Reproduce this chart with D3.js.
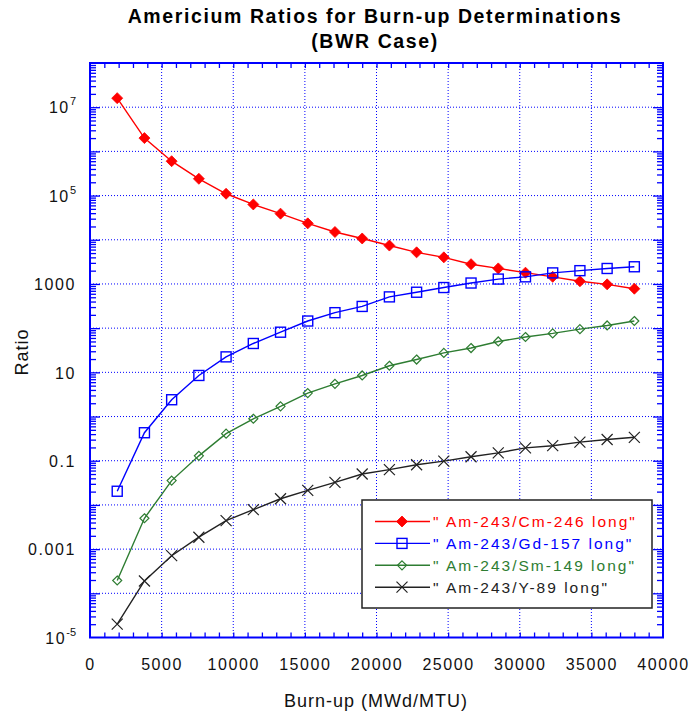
<!DOCTYPE html>
<html>
<head>
<meta charset="utf-8">
<script src="https://cdn.jsdelivr.net/npm/d3@7"></script>
<style>
  body { margin: 0; background: #fff; }
  text { font-family: "Liberation Sans", Arial, sans-serif; }
</style>
</head>
<body>
<svg id="chart" width="691" height="719"></svg>
<script>
// Burn-up steps (MWd/MTU)
const burnup = [1900, 3800, 5700, 7600, 9500, 11400, 13300, 15200, 17100, 19000,
                20900, 22800, 24700, 26600, 28500, 30400, 32300, 34200, 36100, 38000];

// Isotope ratios
const amCm246 = [1.6e7, 2.0e6, 6.0e5, 2.4e5, 1.1e5, 6.3e4, 3.9e4, 2.35e4, 1.5e4, 1.07e4,
                 7.4e3, 5.2e3, 4.0e3, 2.8e3, 2.25e3, 1.8e3, 1.45e3, 1.15e3, 980, 780];
const amGd157 = [0.0204, 0.43, 2.4, 8.5, 22.4, 45, 81, 145, 224, 310,
                 510, 650, 830, 1050, 1290, 1450, 1780, 2000, 2240, 2450];
const amSm149 = [1.95e-4, 5.0e-3, 0.0355, 0.129, 0.41, 0.89, 1.7, 3.4, 5.5, 8.5,
                 14.1, 19.5, 27.5, 35.5, 50, 63, 76, 95, 115, 145];
const amY89   = [2.0e-5, 1.9e-4, 7.1e-4, 1.86e-3, 4.4e-3, 7.8e-3, 0.0138, 0.0214, 0.0324, 0.05,
                 0.063, 0.081, 0.098, 0.123, 0.151, 0.195, 0.219, 0.263, 0.302, 0.339];

const seriesNames = ['" Am-243/Cm-246 long"', '" Am-243/Gd-157 long"',
                     '" Am-243/Sm-149 long"', '" Am-243/Y-89 long"'];

// Axis labelling
const xTickValues = [0, 5000, 10000, 15000, 20000, 25000, 30000, 35000, 40000];
const yLabelValues = [1e7, 1e5, 1000, 10, 0.1, 0.001, 1e-5];
const yLabelBase = ["10", "10", "1000", "10", "0.1", "0.001", "10"];
const yLabelExp  = ["7", "5", "", "", "", "", "-5"];

const series = [
  { name: seriesNames[0], values: amCm246, color: "#ff0000", marker: "diamondFilled" },
  { name: seriesNames[1], values: amGd157, color: "#0000ff", marker: "square" },
  { name: seriesNames[2], values: amSm149, color: "#2e7d32", marker: "diamondOpen" },
  { name: seriesNames[3], values: amY89,   color: "#222222", marker: "cross" }
];

const svg = d3.select("#chart");
const L = 90, R = 663, T = 63, B = 637.5;
const blue = "#0000ff";

const x = d3.scaleLinear().domain([0, 40000]).range([L, R]);
const y = d3.scaleLog().domain([1e-5, 1e8]).range([B, T]);

// dotted grid
const grid = svg.append("g").attr("stroke", blue).attr("stroke-width", 1)
  .attr("stroke-dasharray", "1,2");
d3.range(5000, 40000, 5000).forEach(v => {
  grid.append("line").attr("x1", x(v)).attr("x2", x(v)).attr("y1", T).attr("y2", B);
});
d3.range(-4, 8).forEach(e => {
  const yy = y(Math.pow(10, e));
  grid.append("line").attr("x1", L).attr("x2", R).attr("y1", yy).attr("y2", yy);
});

// inward tick marks on all four sides
function styleAxis(g) {
  g.select(".domain").remove();
  g.selectAll(".tick line").attr("stroke", blue).attr("stroke-width", 1.3);
  g.selectAll(".tick text").remove();
}
const xMinor = d3.range(1000, 40000, 1000);
svg.append("g").attr("transform", `translate(0,${B})`)
  .call(d3.axisBottom(x).tickValues(xMinor).tickSize(-5)).call(styleAxis);
svg.append("g").attr("transform", `translate(0,${T})`)
  .call(d3.axisTop(x).tickValues(xMinor).tickSize(-5)).call(styleAxis);

const yMinor = [];
const yMajor = [];
for (let e = -5; e < 8; e++) {
  if (e > -5) yMajor.push(Math.pow(10, e));
  for (let k = 2; k <= 9; k++) yMinor.push(k * Math.pow(10, e));
}
svg.append("g").attr("transform", `translate(${L},0)`)
  .call(d3.axisLeft(y).tickValues(yMinor).tickSize(-6)).call(styleAxis);
svg.append("g").attr("transform", `translate(${L},0)`)
  .call(d3.axisLeft(y).tickValues(yMajor).tickSize(-10)).call(styleAxis);
svg.append("g").attr("transform", `translate(${R},0)`)
  .call(d3.axisRight(y).tickValues(yMinor).tickSize(-6)).call(styleAxis);
svg.append("g").attr("transform", `translate(${R},0)`)
  .call(d3.axisRight(y).tickValues(yMajor).tickSize(-10)).call(styleAxis);

// frame
svg.append("rect").attr("x", L).attr("y", T).attr("width", R - L).attr("height", B - T)
  .attr("fill", "none").attr("stroke", blue).attr("stroke-width", 2);

// x tick labels
const xLab = svg.append("g").attr("transform", `translate(0,${B})`)
  .call(d3.axisBottom(x).tickValues(xTickValues).tickSize(0).tickPadding(21)
    .tickFormat(d3.format("d")));
xLab.select(".domain").remove();
xLab.selectAll(".tick text").attr("font-size", 16).attr("fill", "#111")
  .attr("font-family", '"Liberation Sans", Arial, sans-serif')
  .attr("letter-spacing", "1.6px");

// y tick labels with exponents
const yLab = svg.append("g").attr("transform", `translate(${L},0)`)
  .call(d3.axisLeft(y).tickValues(yLabelValues).tickSize(0).tickPadding(14)
    .tickFormat(() => ""));
yLab.select(".domain").remove();
yLab.selectAll(".tick text").each(function(d, i) {
  const t = d3.select(this).attr("font-size", 16).attr("fill", "#111")
    .attr("font-family", '"Liberation Sans", Arial, sans-serif')
    .attr("letter-spacing", "1.6px").attr("dy", "0.36em");
  t.text(null);
  t.append("tspan").text(yLabelBase[i]);
  if (yLabelExp[i]) {
    t.append("tspan").attr("font-size", 11).attr("dy", "-0.75em")
      .attr("letter-spacing", "0px").text(yLabelExp[i]);
  }
});

// data lines and markers
const line = d3.line().x((d, i) => x(burnup[i])).y(d => y(d));

function drawMarker(g, kind, color, cx, cy) {
  if (kind === "diamondFilled") {
    const r = 5.5;
    g.append("path").attr("d", `M${cx},${cy - r}L${cx + r},${cy}L${cx},${cy + r}L${cx - r},${cy}Z`)
      .attr("fill", color).attr("stroke", color).attr("stroke-width", 0.8);
  } else if (kind === "square") {
    const r = 5;
    g.append("rect").attr("x", cx - r).attr("y", cy - r).attr("width", 2 * r).attr("height", 2 * r)
      .attr("fill", "none").attr("stroke", color).attr("stroke-width", 1.4);
  } else if (kind === "diamondOpen") {
    const r = 4.5;
    g.append("path").attr("d", `M${cx},${cy - r}L${cx + r},${cy}L${cx},${cy + r}L${cx - r},${cy}Z`)
      .attr("fill", "none").attr("stroke", color).attr("stroke-width", 1.2);
  } else if (kind === "cross") {
    const r = 5.5;
    g.append("path").attr("d", `M${cx - r},${cy - r}L${cx + r},${cy + r}M${cx - r},${cy + r}L${cx + r},${cy - r}`)
      .attr("fill", "none").attr("stroke", color).attr("stroke-width", 1.2);
  }
}

const plot = svg.append("g");
series.forEach(s => {
  plot.append("path").datum(s.values).attr("d", line)
    .attr("fill", "none").attr("stroke", s.color).attr("stroke-width", 1.4);
  const mg = plot.append("g");
  s.values.forEach((v, i) => drawMarker(mg, s.marker, s.color, x(burnup[i]), y(v)));
});

// legend
const lg = svg.append("g");
lg.append("rect").attr("x", 362).attr("y", 500).attr("width", 290).attr("height", 108)
  .attr("fill", "#fff").attr("stroke", "#222").attr("stroke-width", 1.5);
series.forEach((s, i) => {
  const ly = 521.5 + i * 21.9;
  lg.append("line").attr("x1", 375).attr("x2", 430).attr("y1", ly).attr("y2", ly)
    .attr("stroke", s.color).attr("stroke-width", 1.4);
  drawMarker(lg, s.marker, s.color, 402, ly);
  lg.append("text").attr("x", 433).attr("y", ly).attr("dy", "0.36em")
    .attr("font-size", 15.5).attr("letter-spacing", "2px").attr("fill", s.color)
    .text(s.name);
});

// titles
svg.append("text").attr("x", 375).attr("y", 23).attr("text-anchor", "middle")
  .attr("font-size", 19.5).attr("font-weight", "bold").attr("letter-spacing", "1.6px")
  .attr("fill", "#000").text("Americium Ratios for Burn-up Determinations");
svg.append("text").attr("x", 375).attr("y", 48).attr("text-anchor", "middle")
  .attr("font-size", 19.5).attr("font-weight", "bold").attr("letter-spacing", "1.6px")
  .attr("fill", "#000").text("(BWR Case)");

svg.append("text").attr("x", 376).attr("y", 707).attr("text-anchor", "middle")
  .attr("font-size", 18).attr("letter-spacing", "1px").attr("fill", "#111")
  .text("Burn-up (MWd/MTU)");
svg.append("text").attr("transform", "translate(28,352) rotate(-90)").attr("text-anchor", "middle")
  .attr("font-size", 18).attr("letter-spacing", "1px").attr("fill", "#111")
  .text("Ratio");
</script>
</body>
</html>
